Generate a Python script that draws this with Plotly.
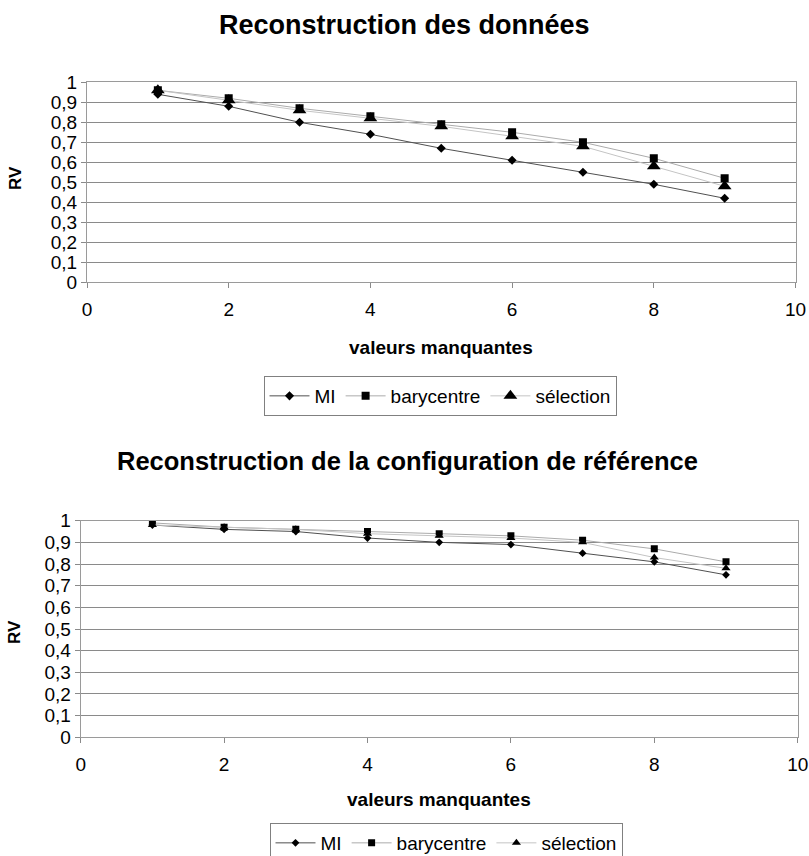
import plotly.graph_objects as go

x_vals = [1, 2, 3, 4, 5, 6, 7, 8, 9]

# Top chart: Reconstruction des données
top_mi = [0.94, 0.88, 0.80, 0.74, 0.67, 0.61, 0.55, 0.49, 0.42]
top_bary = [0.96, 0.92, 0.87, 0.83, 0.79, 0.75, 0.70, 0.62, 0.52]
top_sel = [0.96, 0.91, 0.86, 0.82, 0.78, 0.73, 0.68, 0.58, 0.48]

# Bottom chart: Reconstruction de la configuration de référence
bot_mi = [0.98, 0.96, 0.95, 0.92, 0.90, 0.89, 0.85, 0.81, 0.75]
bot_bary = [0.99, 0.97, 0.96, 0.95, 0.94, 0.93, 0.91, 0.87, 0.81]
bot_sel = [0.98, 0.97, 0.96, 0.94, 0.93, 0.92, 0.90, 0.83, 0.78]

series_names = ["MI", "barycentre", "sélection"]
line_colors = ["#505050", "#ababab", "#c4c4c4"]
symbols = ["diamond", "square", "triangle-up"]

titles = ["Reconstruction des données", "Reconstruction de la configuration de référence"]
x_title = "valeurs manquantes"
y_title = "RV"
y_ticks = [i / 10 for i in range(11)]
x_ticks = [0, 2, 4, 6, 8, 10]

FONT = "Liberation Sans, Arial, sans-serif"
W, H = 809, 856

fig = go.Figure()

top_sizes = [7, 8, 12]
bot_sizes = [6, 7, 8]

for i, (name, ys) in enumerate(zip(series_names, [top_mi, top_bary, top_sel])):
    fig.add_trace(go.Scatter(
        x=x_vals, y=ys, name=name, mode="lines+markers",
        line=dict(color=line_colors[i], width=1),
        marker=dict(symbol=symbols[i], size=top_sizes[i], color="black"),
        xaxis="x", yaxis="y", legend="legend",
    ))
for i, (name, ys) in enumerate(zip(series_names, [bot_mi, bot_bary, bot_sel])):
    fig.add_trace(go.Scatter(
        x=x_vals, y=ys, name=name, mode="lines+markers",
        line=dict(color=line_colors[i], width=1),
        marker=dict(symbol=symbols[i], size=bot_sizes[i], color="black"),
        xaxis="x2", yaxis="y2", legend="legend2",
    ))

def px_x(p):
    return p / W

def px_y(p):
    return 1 - p / H

axis_common = dict(
    showline=True, linecolor="#9a9a9a", linewidth=1, mirror=True,
    ticks="outside", ticklen=5, tickcolor="#8a8a8a",
    tickfont=dict(family=FONT, size=19, color="black"),
    zeroline=False, fixedrange=True,
)

legend_common = dict(
    orientation="h", xanchor="center", yanchor="top",
    bordercolor="#808080", borderwidth=1, bgcolor="white",
    font=dict(family=FONT, size=19, color="black"),
    itemwidth=40, tracegroupgap=0,
)

fig.update_layout(
    autosize=True,
    margin=dict(l=0, r=0, t=0, b=0, autoexpand=False),
    paper_bgcolor="white", plot_bgcolor="white",
    separators=", ",
    font=dict(family=FONT, color="black"),
    showlegend=True,
    xaxis=dict(domain=[px_x(87), px_x(795.5)], range=[0, 10], tickvals=x_ticks,
               showgrid=False, anchor="y", ticklabelstandoff=5, **axis_common),
    yaxis=dict(domain=[px_y(282.3), px_y(82.3)], range=[0, 1], tickvals=y_ticks,
               showgrid=True, gridcolor="#8a8a8a", gridwidth=1, anchor="x",
               tickformat=".1~f", **axis_common),
    xaxis2=dict(domain=[px_x(80.7), px_x(797.7)], range=[0, 10], tickvals=x_ticks,
                showgrid=False, anchor="y2", ticklabelstandoff=5, **axis_common),
    yaxis2=dict(domain=[px_y(737.3), px_y(520.7)], range=[0, 1], tickvals=y_ticks,
                showgrid=True, gridcolor="#8a8a8a", gridwidth=1, anchor="x2",
                tickformat=".1~f", **axis_common),
    legend=dict(x=px_x(440), y=px_y(376), **legend_common),
    legend2=dict(x=px_x(446), y=px_y(823), **legend_common),
)

annotations = [
    dict(text="<b>%s</b>" % titles[0], x=px_x(404), y=px_y(25), xref="paper", yref="paper",
         xanchor="center", yanchor="middle", showarrow=False,
         font=dict(family=FONT, size=27, color="black")),
    dict(text="<b>%s</b>" % titles[1], x=px_x(407), y=px_y(461), xref="paper", yref="paper",
         xanchor="center", yanchor="middle", showarrow=False,
         font=dict(family=FONT, size=25.5, color="black")),
    dict(text="<b>%s</b>" % x_title, x=px_x(441), y=px_y(347), xref="paper", yref="paper",
         xanchor="center", yanchor="middle", showarrow=False,
         font=dict(family=FONT, size=19, color="black")),
    dict(text="<b>%s</b>" % x_title, x=px_x(439), y=px_y(799), xref="paper", yref="paper",
         xanchor="center", yanchor="middle", showarrow=False,
         font=dict(family=FONT, size=19, color="black")),
    dict(text="<b>%s</b>" % y_title, x=px_x(16), y=px_y(178), xref="paper", yref="paper",
         xanchor="center", yanchor="middle", showarrow=False, textangle=-90,
         font=dict(family=FONT, size=17, color="black")),
    dict(text="<b>%s</b>" % y_title, x=px_x(14), y=px_y(632), xref="paper", yref="paper",
         xanchor="center", yanchor="middle", showarrow=False, textangle=-90,
         font=dict(family=FONT, size=17, color="black")),
]
fig.update_layout(annotations=annotations)

# Fixed-size div pinned to the top-left corner of the page (ignores body margin).
fig.write_html(
    "out.html",
    default_width="%dpx; position:absolute; left:0px; top:0px" % W,
    default_height="%dpx" % H,
)
